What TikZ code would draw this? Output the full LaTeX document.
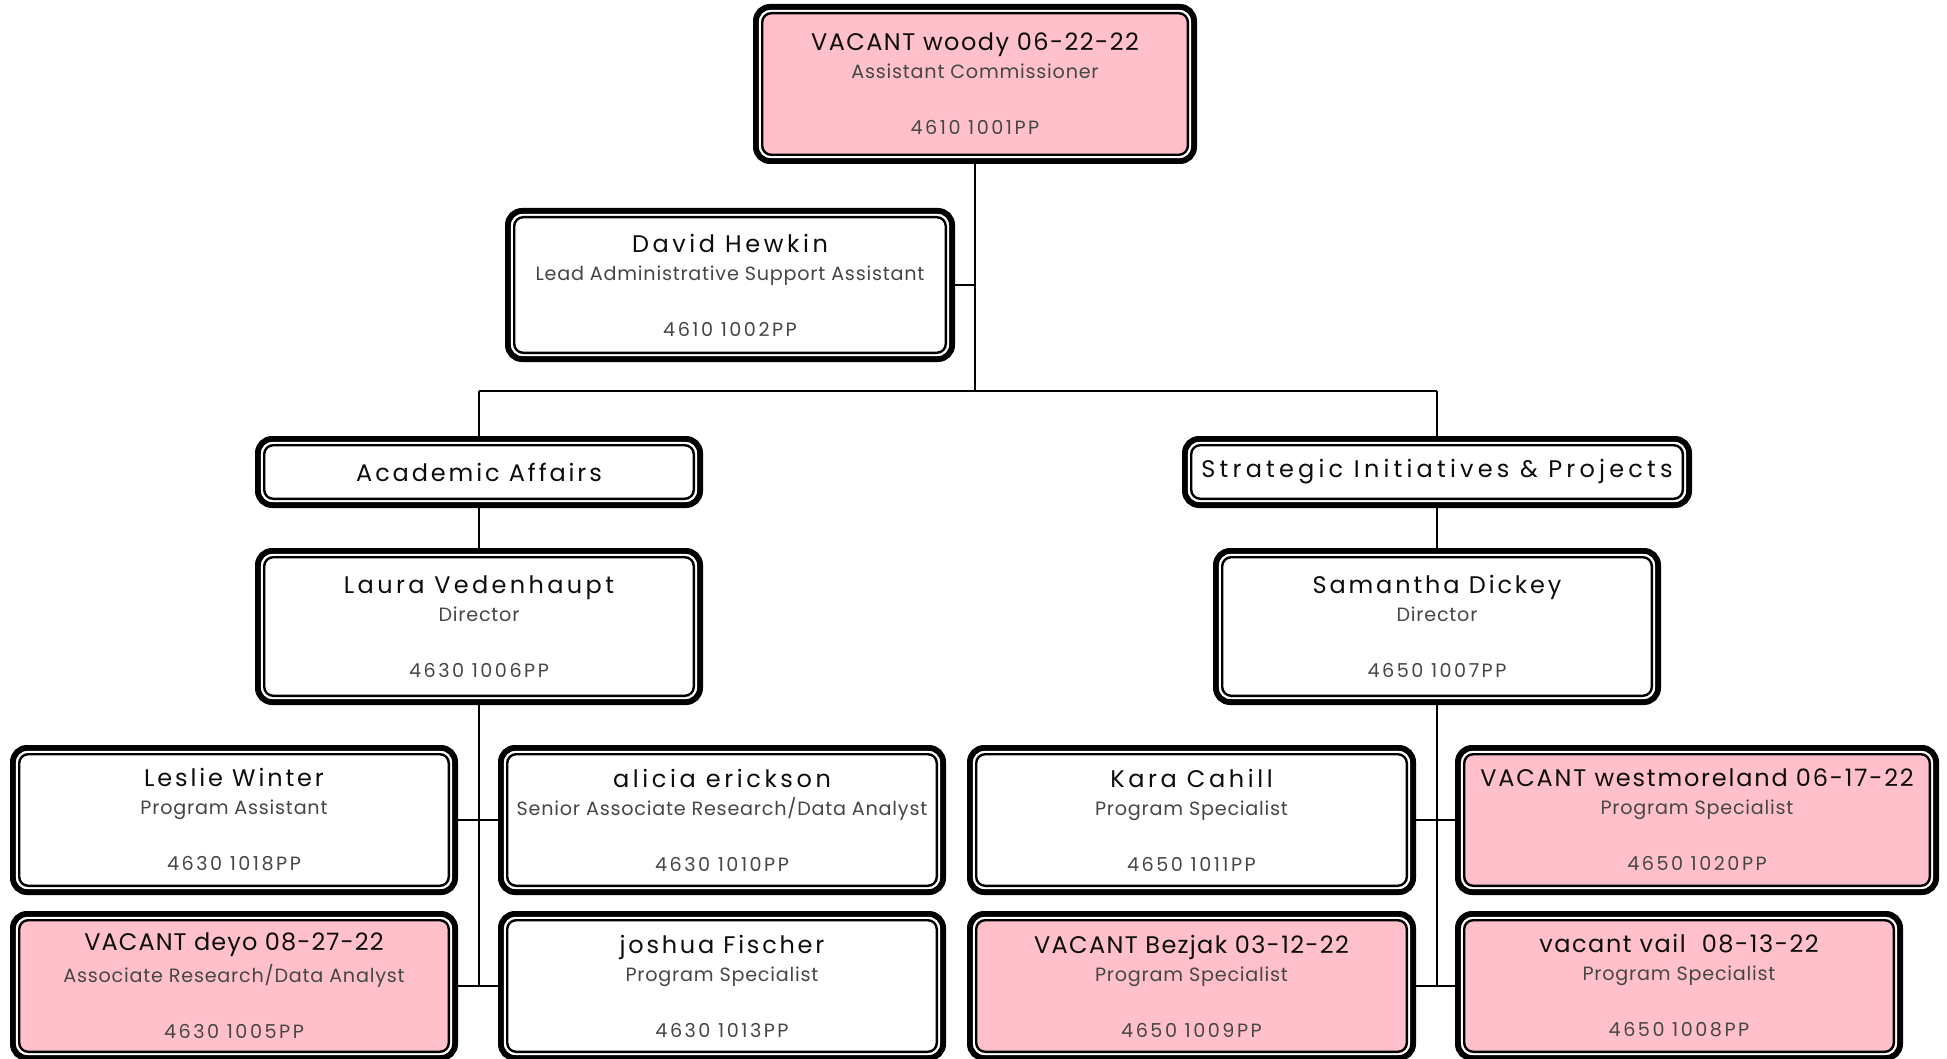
\documentclass[tikz,border=0pt]{standalone}
\usepackage{fontspec}
\setmainfont{Poppins}
\newfontfamily\subfam[LetterSpace=4]{Poppins}
\newfontfamily\codefam[LetterSpace=13]{Poppins}
\definecolor{vacpink}{RGB}{255,192,203}
\definecolor{subgray}{RGB}{70,70,70}
\newcommand\nmf[1]{\fontsize{12}{14}\selectfont\addfontfeatures{LetterSpace=#1}\color{black!95}}
\newcommand\sbf{\fontsize{9.6}{11}\selectfont}
\tikzset{
  box/.style={draw=black, line width=3pt, rounded corners=7pt, fill=#1,
    inner sep=0pt, outer sep=0pt, align=center, font=\sbf, text=subgray},
  box/.default=white,
  pbox/.style={box=#1, minimum width=221pt, minimum height=72pt},
  pbox/.default=white,
  dbox/.style={box, minimum height=33pt, text=black},
  gapline/.style={white, line width=1.1pt, rounded corners=5.5pt},
  innerline/.style={black, line width=1.2pt, rounded corners=4.5pt},
  conn/.style={draw=black, line width=1.4pt},
  connb/.style={draw=black, line width=0.9pt}
}
\newcommand\ptext[4][12]{{\nmf{#1}#2}\\[3pt]{\subfam #3}\\[17pt]{\codefam #4}}
\begin{document}
\begin{tikzpicture}[x=0.5pt,y=-0.5pt]
\useasboundingbox (0,0) rectangle (1947,1059);
\clip (0,0) rectangle (1947,1059);
% junction coordinates
\coordinate (j1) at (975,391);
\coordinate (jL) at (479,391);
\coordinate (jR) at (1437,391);
\coordinate (lb) at (479,986);
\coordinate (rb) at (1437,986);
% boxes
\node[box=vacpink, minimum width=219pt, minimum height=77pt] (top) at (975,84) {\ptext[6]{VACANT woody 06-22-22}{Assistant Commissioner}{4610 1001PP}};
\node[box, minimum width=222pt, minimum height=74pt] (david) at (730,285) {\ptext[15]{David Hewkin}{Lead Administrative Support Assistant}{4610 1002PP}};
\node[dbox, minimum width=221pt] (aa) at (479,472) {\nmf{12}Academic Affairs};
\node[dbox, minimum width=252pt] (sip) at (1437,472) {\nmf{17.5}Strategic Initiatives \& Projects};
\node[box, minimum width=221pt, minimum height=75.5pt] (laura) at (479,626.5) {\ptext[14]{Laura Vedenhaupt}{Director}{4630 1006PP}};
\node[box, minimum width=221pt, minimum height=75.5pt] (sam) at (1437,626.5) {\ptext[12]{Samantha Dickey}{Director}{4650 1007PP}};
\node[pbox] (leslie) at (234,820) {\ptext[12]{Leslie Winter}{Program Assistant}{4630 1018PP}};
\node[pbox] (alicia) at (722,820) {\ptext[15]{alicia erickson}{Senior Associate Research/Data Analyst}{4630 1010PP}};
\node[pbox, minimum width=221.5pt] (kara) at (1191.5,820) {\ptext[15]{Kara Cahill}{Program Specialist}{4650 1011PP}};
\node[pbox=vacpink, minimum width=239pt] (westm) at (1697,820) {\ptext[7.5]{VACANT westmoreland 06-17-22}{Program Specialist}{4650 1020PP}};
\node[pbox=vacpink] (deyo) at (234,986) {\ptext[4.5]{VACANT deyo 08-27-22}{Associate Research/Data Analyst}{4630 1005PP}};
\node[pbox] (joshua) at (722,986) {\ptext[11.5]{joshua Fischer}{Program Specialist}{4630 1013PP}};
\node[pbox=vacpink, minimum width=221.5pt] (bezjak) at (1191.5,986) {\ptext[5.5]{VACANT Bezjak 03-12-22}{Program Specialist}{4650 1009PP}};
\node[pbox=vacpink] (vail) at (1679,986) {\ptext[6.5]{vacant vail\ \ 08-13-22}{Program Specialist}{4650 1008PP}};
% inner lines of the double borders
\foreach \n in {top,david,aa,sip,laura,sam,leslie,alicia,kara,westm,deyo,joshua,bezjak,vail}{
  \draw[gapline] ([shift={(2.0pt,2.0pt)}]\n.south west) rectangle ([shift={(-2.0pt,-2.0pt)}]\n.north east);
  \draw[innerline] ([shift={(3.1pt,3.1pt)}]\n.south west) rectangle ([shift={(-3.1pt,-3.1pt)}]\n.north east);
}
% connectors
\draw[conn] (top.south) -- (j1);
\draw[conn] (david.east) -- (david.east -| j1);
\draw[conn] (jL) -- (jR);
\draw[conn] (jL) -- (aa.north);
\draw[conn] (jR) -- (sip.north);
\draw[connb] (aa.south) -- (laura.north);
\draw[connb] (sip.south) -- (sam.north);
\draw[connb] (laura.south) -- (lb);
\draw[connb] (sam.south) -- (rb);
\draw[connb] (leslie.east) -- (alicia.west);
\draw[connb] (deyo.east) -- (joshua.west);
\draw[connb] (kara.east) -- (westm.west);
\draw[connb] (bezjak.east) -- (vail.west);
\end{tikzpicture}
\end{document}
